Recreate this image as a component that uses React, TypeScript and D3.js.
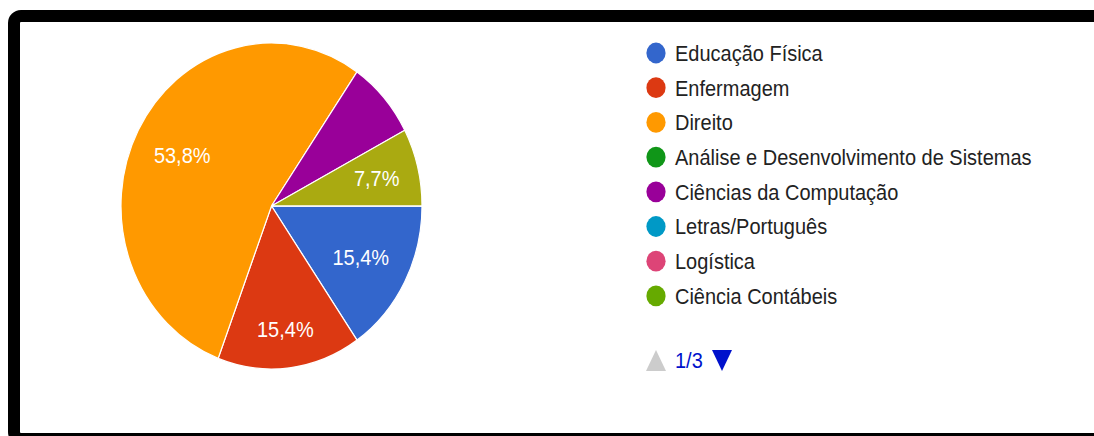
import React from "react";
import * as d3 from "d3";

const categories = [
  "Educação Física",
  "Enfermagem",
  "Direito",
  "Análise e Desenvolvimento de Sistemas",
  "Ciências da Computação",
  "Letras/Português",
  "Logística",
  "Ciência Contábeis",
  "Outro curso 9",
  "Outro curso 10",
  "Outro curso 11",
  "Outro curso 12",
  "Outro curso 13",
];
const values = [2, 2, 7, 0, 1, 0, 0, 0, 0, 0, 0, 0, 1];
const colors = [
  "#3366cc", "#dc3912", "#ff9900", "#109618", "#990099", "#0099c6",
  "#dd4477", "#66aa00", "#b82e2e", "#316395", "#994499", "#22aa99", "#aaaa11",
];
const unlabeled = ["Ciências da Computação"];
const legendPageSize = 8;
const pagerLabel = "1/3";

const W = 1094;
const H = 436;
const SY = 1.083; // vertical stretch of the reference
const cx = 271.5;
const cy = 206;
const R = 150.5;
const FONT = "'Liberation Sans', Arial, sans-serif";
const labelNudge: Record<string, number> = { Enfermagem: 14 };

export default function App() {
  const data = categories.map((c, i) => ({ name: c, value: values[i], color: colors[i] }));
  const total = d3.sum(values);
  const pie = d3
    .pie<any>()
    .sort(null)
    .value((d: any) => d.value)
    .startAngle(Math.PI / 2)
    .endAngle(Math.PI / 2 + 2 * Math.PI);
  const arcs = pie(data).filter((a) => a.value > 0);
  const arc = d3.arc<any>().innerRadius(0).outerRadius(R);
  const fmt = (v: number) => (d3.format(".1f")((v / total) * 100)).replace(".", ",") + "%";

  // label placement: start at 0.67R and push outward until text box fits the wedge
  const labelPos = (a: any, text: string) => {
    const hw = text.length * 5.6;
    const hh = 9;
    const mid = (a.startAngle + a.endAngle) / 2;
    const ux = Math.sin(mid);
    const uy = -Math.cos(mid);
    const margin = 7.5;
    const fits = (d: number) => {
      const x0 = ux * d, y0 = uy * d;
      const corners = [
        [x0 - hw, y0 - hh], [x0 + hw, y0 - hh], [x0 - hw, y0 + hh], [x0 + hw, y0 + hh],
      ];
      for (const ang of [a.startAngle, a.endAngle]) {
        const ex = Math.sin(ang), ey = -Math.cos(ang);
        for (const [px, py] of corners) {
          const cross = px * ey - py * ex;
          const s = ang === a.startAngle ? -cross : cross;
          if (s < margin) return false;
        }
      }
      return true;
    };
    let d = 0.67 * R;
    while (!fits(d) && d < 0.85 * R) d += 0.5;
    d += labelNudge[a.data.name] || 0;
    return [cx + ux * d, cy + uy * d * SY];
  };

  const legendItems = data.slice(0, legendPageSize);
  const ly = d3.scaleLinear().domain([0, 1]).range([53, 53 + 34.7]);

  return (
    <svg
      width={W}
      height={H}
      style={{ position: "fixed", left: 0, top: 0, background: "#fff" }}
      fontFamily={FONT}
    >
      <rect x={0} y={0} width={W} height={H} fill="#fff" />
      <rect x={14} y={16} width={1200} height={423} rx={7} fill="#fff" stroke="#000" strokeWidth={12} />
      <g transform={`translate(${cx},${cy}) scale(1,${SY})`}>
        {arcs.map((a, i) => (
          <path key={i} d={arc(a) as string} fill={a.data.color} stroke="#fff" strokeWidth={1.2} />
        ))}
      </g>
      {arcs
        .filter((a) => !unlabeled.includes(a.data.name))
        .map((a, i) => {
          const t = fmt(a.value);
          const [x, y] = labelPos(a, t);
          return (
            <text
              key={i}
              transform={`translate(${x},${y}) scale(1,${SY})`}
              textAnchor="middle"
              dy="0.36em"
              fontSize={20}
              fill="#fff"
            >
              {t}
            </text>
          );
        })}
      {legendItems.map((d, i) => (
        <g key={i} transform={`translate(0,${ly(i)})`}>
          <ellipse cx={656} cy={0} rx={9.6} ry={10.4} fill={d.color} />
          <text transform={`translate(675,0) scale(1,${SY})`} dy="0.36em" fontSize={20} fill="#222">
            {d.name}
          </text>
        </g>
      ))}
      <g transform="translate(0,360.5)">
        <path d="M646,10.5 L666,10.5 L656,-10.5 Z" fill="#cccccc" />
        <text transform={`translate(675,0) scale(1,${SY})`} dy="0.36em" fontSize={20} fill="#0011cc">
          {pagerLabel}
        </text>
        <path d="M712,-10.5 L732,-10.5 L722,10.5 Z" fill="#0011cc" />
      </g>
    </svg>
  );
}
